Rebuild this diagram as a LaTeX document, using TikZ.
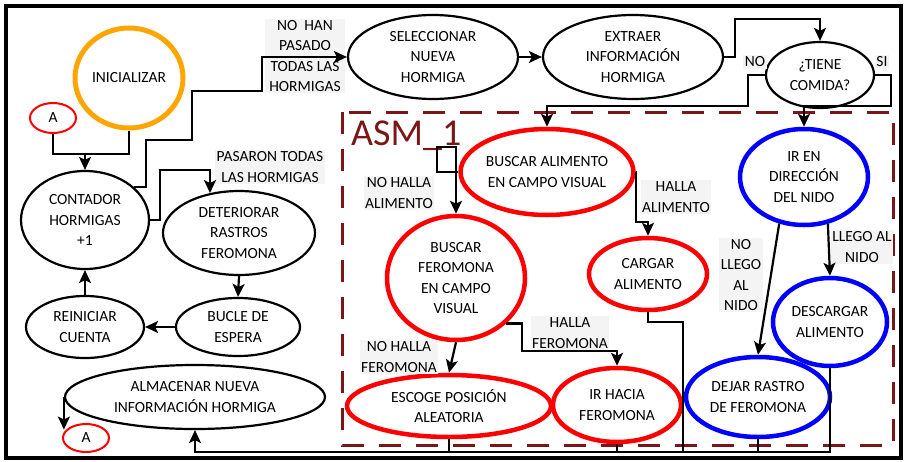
\documentclass[tikz,border=0pt]{standalone}
\usepackage{fontspec}
\setmainfont{Carlito}
\usetikzlibrary{arrows.meta, shapes.geometric}
\definecolor{asmred}{RGB}{122,22,24}
\definecolor{lblgray}{RGB}{244,244,244}
\definecolor{iniorange}{RGB}{255,165,0}

\begin{document}
\begin{tikzpicture}[
  x=1pt, y=-1pt,
  font=\fontsize{15.5}{20.5}\selectfont,
  st/.style={ellipse, draw=black, line width=2.2pt, align=center, inner sep=0pt},
  sz/.style 2 args={minimum width=#1pt, minimum height=#2pt},
  stred/.style={st, draw=red, line width=4.5pt},
  stblue/.style={st, draw=blue, line width=4.5pt},
  stini/.style={st, draw=iniorange, line width=5pt},
  conn/.style={line width=2.2pt, black},
  arr/.style={conn, -{Stealth[length=13pt, width=12pt, inset=3pt]}},
  lbl/.style={fill=lblgray, align=center, inner sep=1.5pt},
]
\useasboundingbox (0,0) rectangle (905,461);
% frame and state machine box
\draw[line width=4.5pt] (6,6) rectangle (901,458);
\draw[asmred, line width=3pt, dash pattern=on 22pt off 15pt] (342,112) rectangle (893,445);
\node[asmred, font=\fontsize{38}{40}\selectfont, anchor=base west, inner sep=0pt]
  (asm) at (351,145) {ASM\_1};
% left column
\node[stini, sz={108}{100}] (ini) at (129,78) {INICIALIZAR};
\node[st, draw=red, line width=2pt, sz={46}{30}] (aTop) at (53,118) {A};
\node[st, sz={128}{98}] (cont) at (85,220) {CONTADOR\\HORMIGAS\\+1};
\node[st, sz={152}{84}] (det) at (239,233) {DETERIORAR\\RASTROS\\FEROMONA};
\node[st, sz={124}{58}] (bucle) at (238,327) {BUCLE DE\\ESPERA};
\node[st, sz={118}{62}] (reini) at (85,327) {REINICIAR\\CUENTA};
\node[st, sz={260}{64}] (almac) at (195,397) {ALMACENAR NUEVA\\INFORMACIÓN HORMIGA};
\node[st, draw=red, line width=2pt, sz={46}{28}] (aBot) at (86,438) {A};
% top row
\node[st, sz={170}{84}] (selec) at (433,57) {SELECCIONAR\\NUEVA\\HORMIGA};
\node[st, sz={180}{84}] (extr) at (633,57) {EXTRAER\\INFORMACIÓN\\HORMIGA};
\node[st, sz={108}{66}] (tiene) at (820,75) {¿TIENE\\COMIDA?};
% inside ASM_1
\node[stred, sz={170}{86}] (bAlim) at (547,172) {BUSCAR ALIMENTO\\EN CAMPO VISUAL};
\node[stred, sz={138}{124}] (bFer) at (456,278) {BUSCAR\\FEROMONA\\EN CAMPO\\VISUAL};
\node[stred, sz={118}{72}] (cargar) at (648,274) {CARGAR\\ALIMENTO};
\node[stred, sz={204}{62}] (escoge) at (449,406) {ESCOGE POSICIÓN\\ALEATORIA};
\node[stred, sz={128}{74}] (irHacia) at (617,405) {IR HACIA\\FEROMONA};
\node[stblue, sz={128}{96}] (irNido) at (804,177) {IR EN\\DIRECCIÓN\\DEL NIDO};
\node[stblue, sz={114}{88}] (descar) at (830,322) {DESCARGAR\\ALIMENTO};
\node[stblue, sz={144}{80}] (dejar) at (758,397) {DEJAR RASTRO\\DE FEROMONA};
% edge labels
\node[lbl, minimum width=80pt] (lNoHan) at (305,56) {NO~~HAN\\PASADO\\TODAS LAS\\HORMIGAS};
\node[lbl] (lPasaron) at (270,167) {PASARON TODAS\\LAS HORMIGAS};
\node[lbl] (lNo) at (755,62) {NO};
\node[lbl] (lSi) at (882,62) {SI};
\node[lbl] (lNoHallaA) at (399,193) {NO HALLA\\ALIMENTO};
\node[lbl] (lHallaA) at (676,197) {HALLA\\ALIMENTO};
\node[lbl] (lNoHallaF) at (399,357) {NO HALLA\\FEROMONA};
\node[lbl] (lHallaF) at (570,333) {HALLA\\FEROMONA};
\node[lbl] (lNoLlego) at (741,275) {NO\\LLEGO\\AL\\NIDO};
\node[lbl] (lLlego) at (862,247) {LLEGO AL\\NIDO};
% start and counter
\coordinate (jStart) at (85,154);
\draw[conn] (aTop.south) |- (jStart) -| (ini.south);
\draw[arr] (jStart) -- (cont.north);
\draw[arr] (cont.34) -| (146,140) -| (192,91) -| (262,57) -- (selec.west);
\draw[arr] (cont.east) -| (160,170) -| (det.126);
\draw[arr] (det.south) -- (bucle.north);
\draw[arr] (bucle.west) -- (reini.east);
\draw[arr] (reini.north) -- (cont.south);
% top row
\draw[arr] (selec.east) -- (extr.west);
\draw[arr] (extr.east) -| (735,19) -| (tiene.north);
\draw[arr] (tiene.west) -| (748,106) -| (bAlim.north);
\draw[arr] (tiene.east) -| (891,106) -| (irNido.north);
% ASM_1 transitions
\draw[arr] (bAlim.west) -- (437,172) -- (437,147) -- (456,147) -- (bFer.north);
\draw[arr] (bAlim.east) -| (636,222) -| (cargar.north);
\draw[arr] (bFer.south) -- (escoge.north);
\draw[arr] (bFer.-42) -| (522,351) -| (irHacia.north);
\draw[arr] (irNido.-63) -- (descar.north);
\draw[arr] (irNido.-118) -- (dejar.north);
% return to storing
\coordinate (jRet) at (195,452);
\draw[arr] (descar.south) |- (jRet) -- (almac.south);
\draw[conn] (dejar.south) -- (dejar.south |- jRet);
\draw[conn] (irHacia.south) -- (irHacia.south |- jRet);
\draw[conn] (escoge.south) -- (escoge.south |- jRet);
\draw[conn] (cargar.south) |- (683,322) -- (683,452);
\draw[arr] (almac.west) -- (almac.west |- aBot.157);
\end{tikzpicture}
\end{document}
